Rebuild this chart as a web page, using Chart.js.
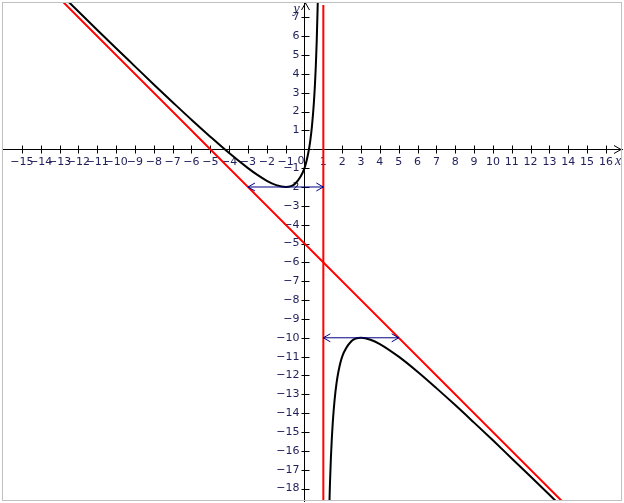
<!DOCTYPE html>
<html>
<head>
<meta charset="utf-8">
<script src="https://cdn.jsdelivr.net/npm/chart.js@4.4.1/dist/chart.umd.min.js"></script>
<style>
html, body { margin: 0; padding: 0; background: #fff; }
#graph { display: block; }
</style>
</head>
<body>
<canvas id="graph" width="624" height="503"></canvas>
<script>
// tick labels (0 is written once, at the origin)
var xTicks = [-15,-14,-13,-12,-11,-10,-9,-8,-7,-6,-5,-4,-3,-2,-1,1,2,3,4,5,6,7,8,9,10,11,12,13,14,15,16];
var yTicks = [-18,-17,-16,-15,-14,-13,-12,-11,-10,-9,-8,-7,-6,-5,-4,-3,-2,-1,1,2,3,4,5,6,7];

// black curve, branch left of x = 1
var leftX = [-12.5, -11, -10, -9, -8, -7, -6, -5, -4, -3, -2.5, -2, -1.5, -1, -0.5, 0, 0.2, 0.3, 0.4, 0.5, 0.55, 0.6, 0.65, 0.7, 0.72];
var leftY = [7.8, 6.33, 5.36, 4.4, 3.44, 2.5, 1.57, 0.67, -0.2, -1, -1.36, -1.67, -1.9, -2, -1.83, -1, -0.2, 0.41, 1.27, 2.5, 3.34, 4.4, 5.78, 7.63, 8.57];

// black curve, branch right of x = 1
var rightX = [1.3, 1.35, 1.4, 1.45, 1.5, 1.6, 1.7, 1.8, 2, 2.5, 3, 3.5, 4, 5, 6, 7, 8, 9, 10, 11, 12, 13, 13.5];
var rightY = [-19.63, -17.78, -16.4, -15.34, -14.5, -13.27, -12.41, -11.8, -11, -10.17, -10, -10.1, -10.33, -11, -11.8, -12.67, -13.57, -14.5, -15.44, -16.4, -17.36, -18.33, -18.82];

// red asymptotes
var slantX = [-13, 14];
var slantY = [8, -19];
var vertX = [1, 1];
var vertY = [7.66, -18.7];

// blue horizontal arrows at the extrema
var minArrowX = [-3, 1];
var minArrowY = [-2, -2];
var maxArrowX = [1, 5];
var maxArrowY = [-10, -10];

var labelColor = '#1f1f5c';
var labelFont = { family: 'DejaVu Sans', size: 11 };

function pts(xs, ys) {
    return xs.map(function(x, i) { return { x: x, y: ys[i] }; });
}

function fmt(v) {
    return v < 0 ? '\u2212' + Math.abs(v) : String(v);
}

function chevron(ctx, x, y, dx, dy) {
    // open arrow head with its tip at (x, y), pointing along (dx, dy)
    var len = 7, half = 4;
    var px = -dy, py = dx;
    ctx.beginPath();
    ctx.moveTo(x - dx * len + px * half, y - dy * len + py * half);
    ctx.lineTo(x, y);
    ctx.lineTo(x - dx * len - px * half, y - dy * len - py * half);
    ctx.stroke();
}

function noPadding(scale) {
    scale.paddingTop = 0;
    scale.paddingBottom = 0;
    scale.paddingLeft = 0;
    scale.paddingRight = 0;
}

var axisExtras = {
    id: 'axisExtras',
    beforeDatasetsDraw: function(chart) {
        var ctx = chart.ctx, xs = chart.scales.x, ys = chart.scales.y;
        var ox = Math.round(xs.getPixelForValue(0)) + 0.5;
        var oy = Math.round(ys.getPixelForValue(0)) + 0.5;
        ctx.save();
        ctx.strokeStyle = '#000';
        ctx.lineWidth = 1;
        ctx.beginPath();
        xTicks.forEach(function(v) {
            var px = Math.round(xs.getPixelForValue(v)) + 0.5;
            ctx.moveTo(px, oy - 4);
            ctx.lineTo(px, oy + 4);
        });
        yTicks.forEach(function(v) {
            var py = Math.round(ys.getPixelForValue(v)) + 0.5;
            ctx.moveTo(ox - 4, py);
            ctx.lineTo(ox + 4, py);
        });
        ctx.stroke();
        // axis arrow heads
        chevron(ctx, chart.chartArea.right - 1, oy, 1, 0);
        chevron(ctx, ox, chart.chartArea.top + 1, 0, -1);
        // y tick labels, left of the axis
        ctx.fillStyle = labelColor;
        ctx.font = '11px "DejaVu Sans"';
        ctx.textAlign = 'right';
        ctx.textBaseline = 'middle';
        yTicks.forEach(function(v) {
            ctx.fillText(fmt(v), ox - 6, ys.getPixelForValue(v));
        });
        // origin label and axis names
        ctx.fillText('0', ox - 1, oy + 12);
        ctx.font = 'italic 14px "Liberation Serif"';
        ctx.textAlign = 'center';
        ctx.fillText('x', chart.chartArea.right - 4, oy + 12);
        ctx.fillText('y', ox - 9, chart.chartArea.top + 7);
        ctx.restore();
    },
    afterDatasetsDraw: function(chart) {
        var ctx = chart.ctx;
        ctx.save();
        chart.data.datasets.forEach(function(ds, i) {
            if (!ds.arrows) return;
            var pts = chart.getDatasetMeta(i).data;
            var a = pts[0], b = pts[pts.length - 1];
            var d = Math.hypot(b.x - a.x, b.y - a.y);
            var ux = (b.x - a.x) / d, uy = (b.y - a.y) / d;
            ctx.strokeStyle = ds.borderColor;
            ctx.lineWidth = 1;
            chevron(ctx, a.x, a.y, -ux, -uy);
            chevron(ctx, b.x, b.y, ux, uy);
        });
        // light frame
        var ca = chart.chartArea;
        ctx.strokeStyle = '#c0c0c0';
        ctx.lineWidth = 1;
        ctx.strokeRect(ca.left + 0.5, ca.top + 0.5, ca.right - ca.left - 1, ca.bottom - ca.top - 1);
        ctx.restore();
    }
};

var lineDefaults = { showLine: true, pointRadius: 0, pointHoverRadius: 0, fill: false };

var datasets = [
    Object.assign({ label: 'min arrow', data: pts(minArrowX, minArrowY), borderColor: '#000080', borderWidth: 1, arrows: true }, lineDefaults),
    Object.assign({ label: 'max arrow', data: pts(maxArrowX, maxArrowY), borderColor: '#000080', borderWidth: 1, arrows: true }, lineDefaults),
    Object.assign({ label: 'f left', data: pts(leftX, leftY), borderColor: '#000', borderWidth: 2, cubicInterpolationMode: 'monotone' }, lineDefaults),
    Object.assign({ label: 'f right', data: pts(rightX, rightY), borderColor: '#000', borderWidth: 2, cubicInterpolationMode: 'monotone' }, lineDefaults),
    Object.assign({ label: 'slant asymptote', data: pts(slantX, slantY), borderColor: '#ff0000', borderWidth: 2 }, lineDefaults),
    Object.assign({ label: 'vertical asymptote', data: pts(vertX, vertY), borderColor: '#ff0000', borderWidth: 2 }, lineDefaults)
];

var ctx = document.getElementById('graph').getContext('2d');
window.graph = new Chart(ctx, {
    type: 'scatter',
    data: { datasets: datasets },
    plugins: [axisExtras],
    options: {
        responsive: false,
        animation: false,
        events: [],
        layout: { padding: { left: 2, top: 2, right: 2, bottom: 2 } },
        plugins: { legend: { display: false }, tooltip: { enabled: false } },
        scales: {
            x: {
                type: 'linear', min: -16.056, max: 16.852,
                position: { y: 0 },
                afterBuildTicks: function(scale) { scale.ticks = xTicks.map(function(v) { return { value: v }; }); },
                afterFit: noPadding,
                grid: { drawOnChartArea: false, drawTicks: false },
                border: { color: '#000', width: 1 },
                ticks: { autoSkip: false, maxRotation: 0, padding: 6, color: labelColor, font: labelFont, callback: fmt }
            },
            y: {
                type: 'linear', min: -18.658, max: 7.814,
                position: { x: 0 },
                afterBuildTicks: function(scale) { scale.ticks = yTicks.map(function(v) { return { value: v }; }); },
                afterFit: noPadding,
                grid: { drawOnChartArea: false, drawTicks: false },
                border: { color: '#000', width: 1 },
                ticks: { display: false }
            }
        }
    }
});
</script>
</body>
</html>
